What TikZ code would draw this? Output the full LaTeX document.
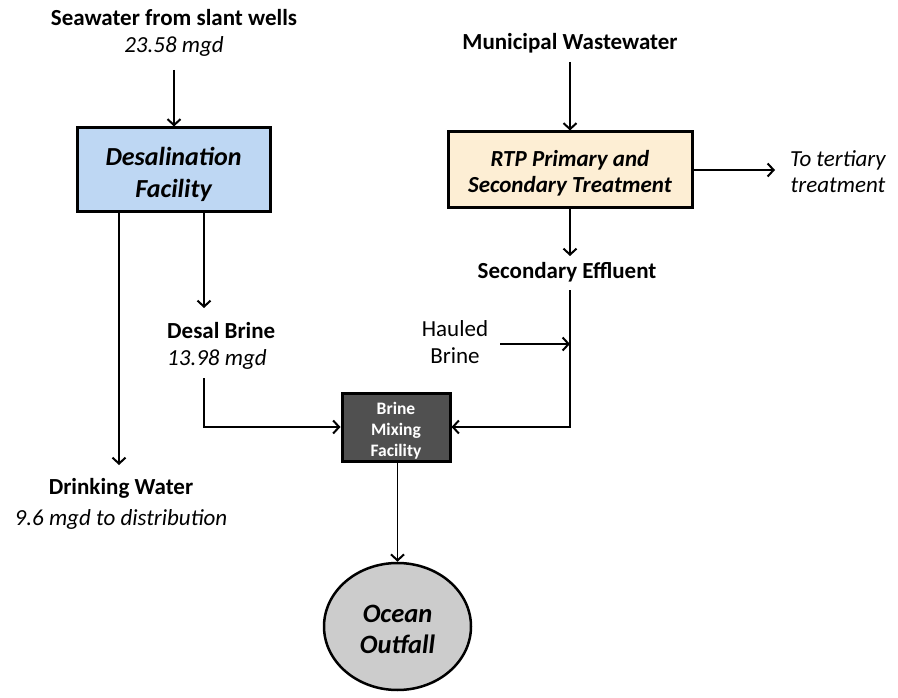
\documentclass[tikz,border=0pt]{standalone}
\usepackage{fontspec}
\setmainfont{Carlito}
\usetikzlibrary{arrows.meta,shapes.geometric}
\definecolor{desalblue}{RGB}{190,215,243}
\definecolor{rtpcream}{RGB}{253,238,212}
\definecolor{mixgray}{RGB}{80,80,80}
\definecolor{oceangray}{RGB}{204,204,204}
\begin{document}
\begin{tikzpicture}[x=1pt,y=-1pt,
  arr/.style={line width=1.4pt,-{Straight Barb[length=6pt,width=13pt,line width=2pt]}},
  lbl/.style={align=center,inner sep=0pt,font=\fontsize{23}{27}\selectfont},
  box/.style={draw,line width=3pt,align=center,inner sep=0pt}]
\useasboundingbox (0,0) rectangle (898,698);
% labels
\node[lbl] (sw) at (174,33) {\textbf{Seawater from slant wells}\\\textit{23.58 mgd}};
\node[lbl,font=\fontsize{23}{27}\selectfont\bfseries] (mw) at (570,43) {Municipal Wastewater};
\node[lbl,font=\fontsize{23}{26}\selectfont\itshape] (tt) at (838,172) {To tertiary\\treatment};
\node[lbl,font=\fontsize{23}{27}\selectfont\bfseries] (se) at (567,272) {Secondary Effluent};
\node[lbl] (hb) at (455,342) {Hauled\\Brine};
\node[lbl,align=left,anchor=west] (db) at (167,346) {\textbf{Desal Brine}\\\textit{13.98 mgd}};
\node[lbl,font=\fontsize{23}{31}\selectfont] (dw) at (121,504) {\textbf{Drinking Water}\\\textit{9.6 mgd to distribution}};
% boxes
\node[box,fill=desalblue,minimum width=193pt,minimum height=84pt,
  font=\fontsize{26}{32}\selectfont\bfseries\itshape] (desal) at (173.5,170) {\rule{0pt}{27pt}Desalination\\Facility};
\node[box,fill=rtpcream,minimum width=244pt,minimum height=76pt,
  font=\fontsize{23}{26}\selectfont\bfseries\itshape] (rtp) at (570,170) {\rule{0pt}{23pt}RTP Primary and\\Secondary Treatment};
\node[box,fill=mixgray,text=white,minimum width=108pt,minimum height=68pt,
  font=\fontsize{17.5}{21}\selectfont\bfseries] (mix) at (396,427) {\rule{0pt}{19pt}Brine\\Mixing\\Facility};
\node[ellipse,draw,line width=2.5pt,fill=oceangray,minimum width=147pt,minimum height=127pt,
  inner sep=0pt,align=center,font=\fontsize{26.5}{31}\selectfont\bfseries\itshape] (ocean) at (397.5,626.5) {\rule{0pt}{24pt}Ocean\\Outfall};
% coordinates
\coordinate (swbot) at (174,70);
\coordinate (dwtop) at (119,465);
\coordinate (dbtop) at (204,308);
\coordinate (dbbot) at (204,378);
\coordinate (mwbot) at (570,62);
\coordinate (ttend) at (775,170);
\coordinate (setop) at (570,256);
\coordinate (sebot) at (570,290);
\coordinate (hbstart) at (500,344);
\coordinate (hbend) at (570,344);
% connectors
\draw[arr] (swbot) -- (swbot |- desal.north);
\draw[arr] (desal.south -| dwtop) -- (dwtop);
\draw[arr] (desal.south -| dbtop) -- (dbtop);
\draw[arr] (dbbot) |- (mix.west);
\draw[arr] (mix.south -| ocean.north) -- (ocean.north);
\draw[arr] (mwbot) -- (rtp.north);
\draw[arr] (rtp.east) -- (ttend);
\draw[arr] (rtp.south) -- (setop);
\draw[line width=1.4pt] (sebot) |- (hbend);
\draw[arr] (hbend) |- (mix.east);
\draw[arr] (hbstart) -- (hbend);
\end{tikzpicture}
\end{document}
